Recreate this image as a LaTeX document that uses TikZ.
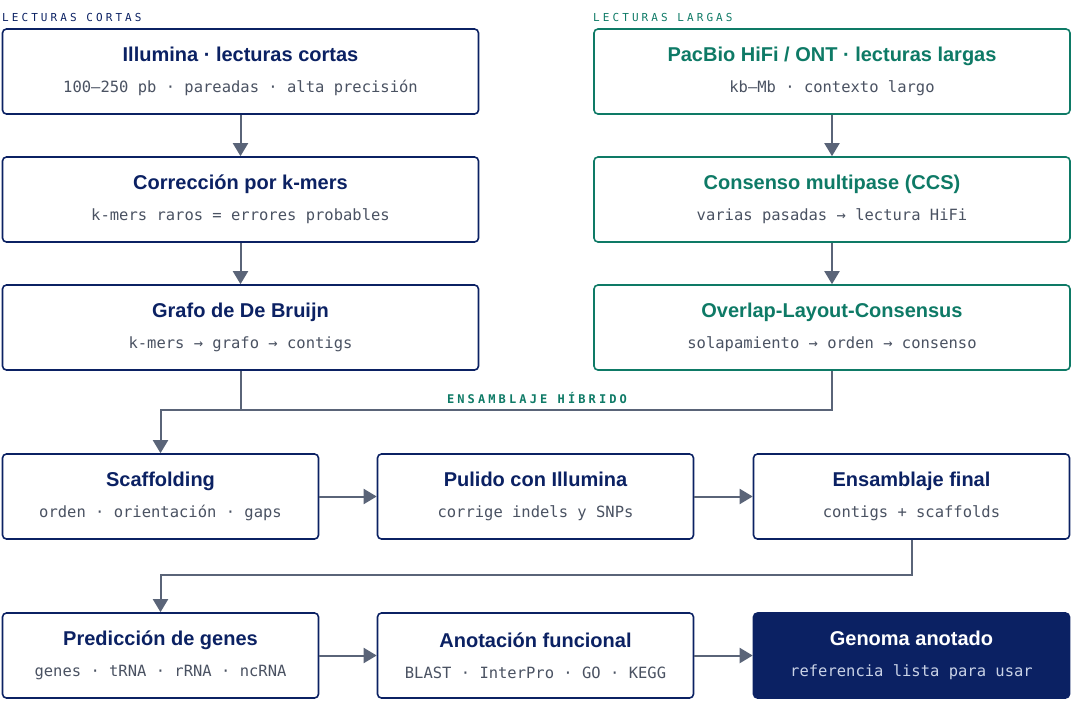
\documentclass[tikz,border=0pt]{standalone}
\usepackage{fontspec}
\setmainfont{Liberation Sans}
\setmonofont{DejaVu Sans Mono}
\usetikzlibrary{arrows.meta,positioning}
\definecolor{navy}{HTML}{0B2163}
\definecolor{verde}{HTML}{0E7A66}
\definecolor{gris}{HTML}{5A6478}
\definecolor{sub}{HTML}{4A5262}
\definecolor{subclaro}{HTML}{C9D2E6}
\tikzset{
  caja/.style={draw=navy,line width=1.6pt,rounded corners=4pt,fill=white,
    minimum width=476pt,minimum height=85pt,align=center,
    font=\fontsize{15}{22}\selectfont},
  cajaverde/.style={caja,draw=verde},
  cajacorta/.style={caja,minimum width=316pt},
  cajafinal/.style={cajacorta,fill=navy},
  flecha/.style={gris,line width=2pt,-{Triangle[length=13pt,width=15pt]}},
  linea/.style={gris,line width=2pt},
  etiqueta/.style={inner sep=0pt,font=\fontsize{11}{13}\selectfont\ttfamily\addfontfeatures{LetterSpace=28}},
}
\newcommand{\titulo}[3]{{\fontsize{20}{22}\selectfont\bfseries\color{#1}#2}\\[9pt]{\fontsize{15.5}{16}\selectfont\ttfamily\color{sub}#3}}
\newcommand{\tituloclaro}[2]{{\fontsize{20}{22}\selectfont\bfseries\color{white}#1}\\[9pt]{\fontsize{15.5}{16}\selectfont\ttfamily\color{subclaro}#2}}
\begin{document}
\begin{tikzpicture}[x=1pt,y=-1pt]
  \useasboundingbox (0,0) rectangle (1072,724);
  % etiquetas de columna
  \node (etqcortas) [etiqueta,anchor=west,text=navy] at (2,17) {LECTURAS CORTAS};
  \node (etqlargas) [etiqueta,anchor=west,text=verde] at (593,17) {LECTURAS LARGAS};
  % lecturas cortas
  \node (illumina) [caja] at (240.5,71.5) {\titulo{navy}{Illumina · lecturas cortas}{100–250 pb · pareadas · alta precisión}};
  \node (kmers) [caja] at (240.5,199.5) {\titulo{navy}{Corrección por k-mers}{k-mers raros = errores probables}};
  \node (debruijn) [caja] at (240.5,327.5) {\titulo{navy}{Grafo de De Bruijn}{k-mers → grafo → contigs}};
  % lecturas largas
  \node (pacbio) [cajaverde] at (832,71.5) {\titulo{verde}{PacBio HiFi / ONT · lecturas largas}{kb–Mb · contexto largo}};
  \node (ccs) [cajaverde] at (832,199.5) {\titulo{verde}{Consenso multipase (CCS)}{varias pasadas → lectura HiFi}};
  \node (olc) [cajaverde] at (832,327.5) {\titulo{verde}{Overlap-Layout-Consensus}{solapamiento → orden → consenso}};
  % ensamblaje
  \node (scaffolding) [cajacorta] at (160.5,496.5) {\titulo{navy}{Scaffolding}{orden · orientación · gaps}};
  \node (pulido) [cajacorta] at (535.5,496.5) {\titulo{navy}{Pulido con Illumina}{corrige indels y SNPs}};
  \node (final) [cajacorta] at (911.5,496.5) {\titulo{navy}{Ensamblaje final}{contigs + scaffolds}};
  % anotacion
  \node (genes) [cajacorta] at (160.5,655.5) {\titulo{navy}{Predicción de genes}{genes · tRNA · rRNA · ncRNA}};
  \node (funcional) [cajacorta] at (535.5,655.5) {\titulo{navy}{Anotación funcional}{BLAST · InterPro · GO · KEGG}};
  \node (genoma) [cajafinal] at (911.5,655.5) {\tituloclaro{Genoma anotado}{referencia lista para usar}};
  % conectores
  \draw [flecha] (illumina) -- (kmers);
  \draw [flecha] (kmers) -- (debruijn);
  \draw [flecha] (pacbio) -- (ccs);
  \draw [flecha] (ccs) -- (olc);
  \coordinate (union) at (160.5,410);
  \coordinate (vuelta) at (160.5,575);
  \draw [linea] (olc.south) |- (union);
  \draw [flecha] (debruijn.south) |- (union) -- (scaffolding.north);
  \node (hibrido) [etiqueta,text=verde,font=\fontsize{12}{14}\selectfont\ttfamily\bfseries\addfontfeatures{LetterSpace=26}] at (537,398) {ENSAMBLAJE HÍBRIDO};
  \draw [flecha] (scaffolding) -- (pulido);
  \draw [flecha] (pulido) -- (final);
  \draw [flecha] (final.south) |- (vuelta) -- (genes.north);
  \draw [flecha] (genes) -- (funcional);
  \draw [flecha] (funcional) -- (genoma);
\end{tikzpicture}
\end{document}
